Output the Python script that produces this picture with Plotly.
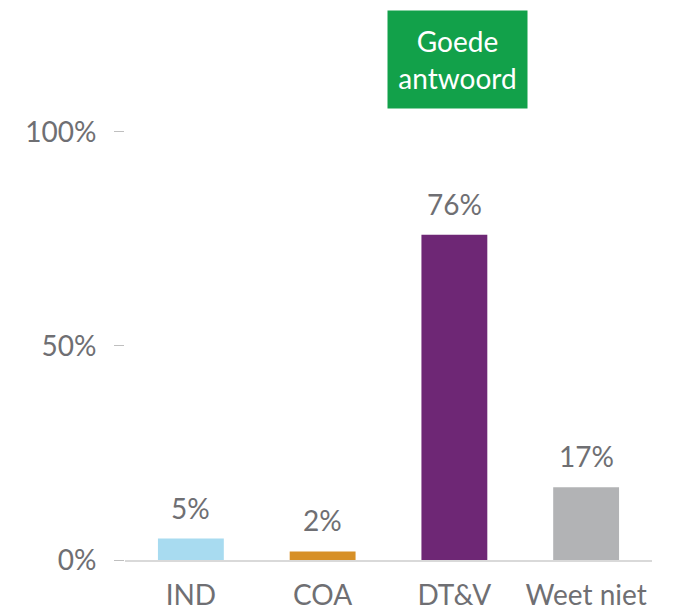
import plotly.graph_objects as go

categories = ["IND", "COA", "DT&V", "Weet niet"]
values = [5, 2, 76, 17]
bar_colors = ["#a8dbf0", "#d79027", "#6e2775", "#b2b3b5"]
label_texts = ["5%", "2%", "76%", "17%"]
y_tick_vals = [0, 50, 100]
y_tick_text = ["0%", "50%", "100%"]
highlight_category = "DT&V"
highlight_text = "Goede<br>antwoord"

FONT = "Lato, 'Open Sans', sans-serif"
GRAY = "#6f6f73"

fig = go.Figure()
fig.add_trace(go.Bar(
    x=categories, y=values, marker=dict(color=bar_colors, line=dict(width=0)),
    width=0.5, hoverinfo="skip", showlegend=False,
))

annotations = []
for c, v, t in zip(categories, values, label_texts):
    annotations.append(dict(
        x=c, y=v, text=t, showarrow=False, yanchor="bottom", yshift=12,
        font=dict(family=FONT, size=28, color=GRAY),
    ))

annotations.append(dict(
    x=highlight_category, xref="x", xshift=3, y=1, yref="paper", yanchor="top", yshift=2,
    text=highlight_text, showarrow=False, align="center", valign="middle",
    font=dict(family=FONT, size=28, color="white"),
    bgcolor="#12a14a", borderpad=0, width=139, height=97,
))

fig.update_layout(
    width=665, height=605,
    margin=dict(l=117, r=21, t=4, b=53, autoexpand=False),
    paper_bgcolor="white", plot_bgcolor="white",
    annotations=annotations,
    bargap=0.5,
    xaxis=dict(
        range=[-0.5, 3.5], showgrid=False, zeroline=False, automargin=False,
        showline=True, linecolor="#d9d9d9", linewidth=2,
        ticks="", tickfont=dict(family=FONT, size=28, color=GRAY),
        ticklabelstandoff=9,
    ),
    yaxis=dict(
        range=[0, 128], showgrid=False, zeroline=False, showline=False, automargin=False,
        tickvals=y_tick_vals, ticktext=y_tick_text,
        ticks="outside", ticklen=10, tickcolor="#bfbfbf", tickwidth=1,
        tickfont=dict(family=FONT, size=28, color=GRAY),
        ticklabelstandoff=12,
    ),
)

fig.write_html("out.html")
